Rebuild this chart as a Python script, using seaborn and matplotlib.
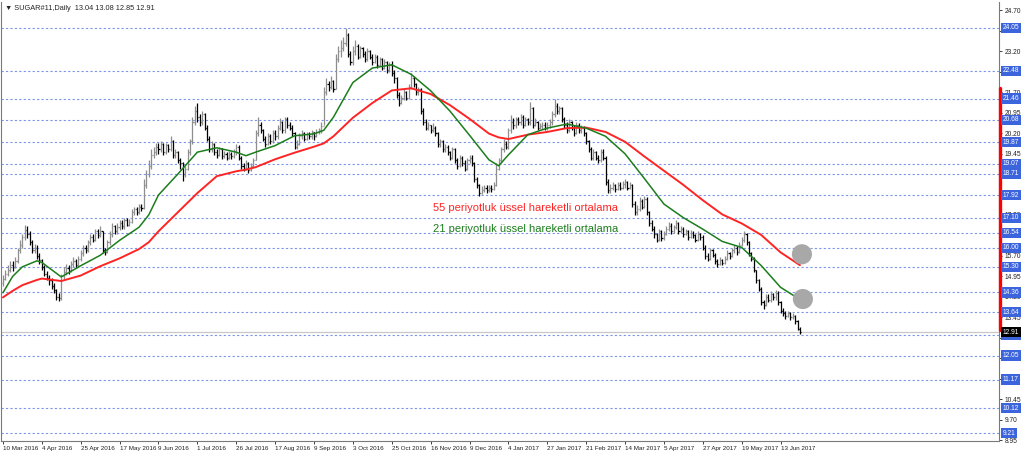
import numpy as np
import pandas as pd
import matplotlib
matplotlib.use('Agg')
import matplotlib.pyplot as plt
import matplotlib.transforms as mtransforms
import seaborn as sns

# daily bars SUGAR#11, 10 Mar 2016 .. Jun 2017
close = [
    14.85, 15.05, 15.2, 15.35, 15.3, 15.5, 15.9, 16.1, 16.4, 16.65, 16.5, 16.2, 15.9, 16.0, 15.7, 15.55,
    15.3, 15.05, 14.9, 14.8, 14.6, 14.45, 14.2, 14.15, 14.95, 15.1, 15.25, 15.15, 15.4, 15.5, 15.35, 15.6,
    15.8, 16.0, 15.9, 16.2, 16.4, 16.3, 16.6, 16.45, 16.6, 15.9, 15.85, 16.2, 16.5, 16.8, 16.6, 16.75,
    16.9, 16.8, 17.0, 16.85, 16.95, 17.3, 17.4, 17.3, 17.5, 17.45, 18.3, 18.7, 19.0, 19.4, 19.5, 19.7,
    19.6, 19.8, 19.5, 19.75, 19.6, 19.9, 19.4, 19.5, 19.2, 19.1, 18.7, 18.9, 19.5, 19.9, 20.6, 21.0,
    20.8, 20.6, 20.9, 20.4, 20.0, 19.6, 19.8, 19.5, 19.4, 19.6, 19.35, 19.45, 19.3, 19.45, 19.35, 19.5,
    19.7, 19.3, 19.0, 18.9, 19.1, 18.85, 19.0, 19.2, 20.2, 20.5, 20.3, 20.0, 19.8, 20.1, 19.9, 20.2,
    20.1, 20.4, 20.6, 20.3, 20.7, 20.5, 20.4, 20.2, 19.7, 19.8, 20.1, 20.2, 20.0, 20.15, 20.1, 20.25,
    20.1, 20.25, 20.3, 20.45, 21.7, 22.0, 21.9, 22.1, 21.8, 22.9, 23.2, 23.3, 23.5, 23.8, 23.1, 22.8,
    23.2, 23.4, 23.0, 23.3, 23.1, 22.9, 23.2, 23.0, 22.8, 23.0, 22.7, 22.9, 22.6, 22.8, 22.5, 22.7,
    22.4, 22.2, 21.6, 21.3, 21.5, 21.7, 21.5, 21.9, 22.2, 22.0, 21.7, 21.8, 21.0, 20.6, 20.4, 20.5,
    20.3, 20.4, 20.2, 19.8, 19.9, 19.6, 19.7, 19.5, 19.3, 19.6, 19.2, 19.0, 19.3, 19.1, 18.9, 19.2,
    19.3, 19.1, 18.5, 18.3, 18.0, 18.1, 18.2, 18.1, 18.2, 18.15, 18.3, 18.9, 19.2, 19.6, 19.8, 19.7,
    20.3, 20.6, 20.5, 20.7, 20.6, 20.8, 20.5, 20.7, 20.6, 21.1, 20.5, 20.6, 20.4, 20.45, 20.5, 20.4,
    20.5, 20.6, 20.9, 21.2, 21.0, 21.1, 20.7, 20.5, 20.3, 20.6, 20.4, 20.2, 20.5, 20.3, 20.4, 20.2,
    19.9, 19.6, 19.3, 19.5, 19.3, 19.2, 19.5, 19.3, 18.4, 18.1, 18.2, 18.3, 18.15, 18.3, 18.2, 18.35,
    18.4, 18.2, 18.3, 17.6, 17.3, 17.4, 17.7, 17.5, 17.8, 17.3, 16.9, 16.7, 16.5, 16.3, 16.6, 16.35,
    16.5, 16.7, 16.8, 16.6, 16.75, 16.9, 16.6, 16.7, 16.5, 16.6, 16.4, 16.55, 16.45, 16.3, 16.5, 16.4,
    16.0, 15.7, 15.6, 15.9, 15.75, 15.5, 15.4, 15.55, 15.45, 15.6, 15.8, 15.7, 15.9, 16.0, 15.85, 16.1,
    16.3, 16.5, 16.2, 15.8, 15.6, 15.2, 14.8, 14.5, 14.0, 13.9, 14.2, 14.1, 14.3, 14.2, 14.35, 14.0,
    13.7, 13.6, 13.5, 13.6, 13.45, 13.5, 13.3, 13.04, 12.91,
]
high = [
    15.0, 15.2, 15.35, 15.5, 15.5, 15.65, 16.0, 16.3, 16.5, 16.85, 16.8, 16.6, 16.3, 16.15, 16.1, 15.8,
    15.6, 15.35, 15.15, 15.0, 14.9, 14.7, 14.5, 14.35, 15.05, 15.3, 15.4, 15.35, 15.5, 15.65, 15.6, 15.7,
    15.9, 16.1, 16.1, 16.3, 16.5, 16.5, 16.7, 16.7, 16.8, 16.6, 16.0, 16.3, 16.6, 16.9, 16.85, 16.9,
    17.0, 17.0, 17.1, 17.1, 17.05, 17.4, 17.5, 17.5, 17.6, 17.6, 18.5, 18.85, 19.2, 19.6, 19.7, 19.85,
    19.85, 19.9, 19.85, 19.85, 19.8, 20.1, 19.95, 19.6, 19.55, 19.3, 19.15, 19.0, 19.6, 20.0, 20.8, 21.2,
    21.3, 20.9, 21.0, 20.95, 20.5, 20.1, 19.9, 19.85, 19.6, 19.7, 19.65, 19.55, 19.5, 19.55, 19.5, 19.6,
    19.8, 19.75, 19.35, 19.1, 19.2, 19.15, 19.1, 19.3, 20.3, 20.8, 20.6, 20.35, 20.1, 20.2, 20.15, 20.3,
    20.3, 20.5, 20.75, 20.65, 20.8, 20.8, 20.6, 20.5, 20.25, 19.95, 20.2, 20.3, 20.25, 20.25, 20.25, 20.3,
    20.25, 20.35, 20.4, 20.6, 21.9, 22.2, 22.1, 22.3, 22.15, 23.1, 23.4, 23.6, 23.7, 24.05, 23.85, 23.2,
    23.4, 23.6, 23.45, 23.4, 23.35, 23.2, 23.3, 23.25, 23.1, 23.1, 23.05, 23.0, 22.95, 22.9, 22.85, 22.8,
    22.85, 22.5, 22.25, 21.7, 21.6, 21.8, 21.75, 22.0, 22.4, 22.3, 22.05, 21.9, 21.85, 21.1, 20.7, 20.6,
    20.5, 20.55, 20.45, 20.25, 20.0, 19.95, 19.8, 19.75, 19.55, 19.7, 19.65, 19.3, 19.4, 19.35, 19.2, 19.3,
    19.4, 19.4, 19.15, 18.6, 18.35, 18.25, 18.3, 18.3, 18.3, 18.3, 18.4, 19.1, 19.3, 19.7, 20.0, 19.9,
    20.4, 20.85, 20.75, 20.8, 20.8, 20.9, 20.85, 20.8, 20.75, 21.35, 21.15, 20.75, 20.65, 20.55, 20.6, 20.6,
    20.6, 20.7, 21.0, 21.45, 21.3, 21.2, 21.15, 20.8, 20.6, 20.7, 20.65, 20.5, 20.6, 20.55, 20.5, 20.45,
    20.25, 19.95, 19.7, 19.6, 19.55, 19.4, 19.6, 19.6, 19.35, 18.5, 18.35, 18.4, 18.35, 18.4, 18.4, 18.45,
    18.5, 18.45, 18.4, 18.35, 17.7, 17.55, 17.85, 17.8, 17.9, 17.85, 17.35, 17.0, 16.8, 16.55, 16.7, 16.65,
    16.6, 16.8, 16.95, 16.9, 16.85, 17.0, 16.95, 16.8, 16.75, 16.7, 16.65, 16.65, 16.6, 16.5, 16.6, 16.55,
    16.45, 16.1, 15.8, 16.0, 15.95, 15.8, 15.6, 15.65, 15.6, 15.7, 15.9, 15.85, 16.0, 16.1, 16.05, 16.2,
    16.4, 16.6, 16.55, 16.25, 15.85, 15.65, 15.2, 14.85, 14.55, 14.1, 14.3, 14.3, 14.4, 14.35, 14.45, 14.4,
    14.05, 13.8, 13.7, 13.7, 13.65, 13.6, 13.55, 13.35, 13.08,
]
low = [
    14.6, 14.8, 14.95, 15.1, 15.15, 15.25, 15.45, 15.8, 16.0, 16.3, 16.35, 16.1, 15.8, 15.8, 15.6, 15.4,
    15.2, 14.95, 14.8, 14.65, 14.5, 14.35, 14.1, 14.05, 14.1, 14.85, 15.0, 15.05, 15.1, 15.3, 15.25, 15.3,
    15.5, 15.7, 15.8, 15.85, 16.1, 16.2, 16.25, 16.35, 16.4, 15.8, 15.75, 15.8, 16.1, 16.4, 16.5, 16.5,
    16.65, 16.7, 16.7, 16.8, 16.8, 16.9, 17.2, 17.2, 17.25, 17.35, 17.4, 18.2, 18.6, 18.9, 19.3, 19.4,
    19.45, 19.5, 19.4, 19.45, 19.5, 19.55, 19.3, 19.3, 19.1, 18.9, 18.45, 18.6, 18.85, 19.4, 19.8, 20.5,
    20.6, 20.45, 20.5, 20.3, 19.9, 19.5, 19.5, 19.4, 19.3, 19.35, 19.25, 19.3, 19.2, 19.25, 19.25, 19.3,
    19.4, 19.2, 18.9, 18.8, 18.85, 18.75, 18.8, 18.95, 19.2, 20.1, 20.2, 19.9, 19.7, 19.75, 19.8, 19.85,
    19.95, 20.0, 20.3, 20.2, 20.2, 20.4, 20.3, 20.1, 19.6, 19.6, 19.75, 20.0, 19.9, 19.95, 20.0, 20.0,
    19.95, 20.05, 20.15, 20.2, 20.5, 21.6, 21.75, 21.8, 21.7, 21.8, 22.8, 23.0, 23.2, 23.4, 23.0, 22.7,
    22.7, 23.05, 22.9, 22.95, 23.0, 22.8, 22.85, 22.9, 22.7, 22.75, 22.6, 22.65, 22.5, 22.55, 22.4, 22.45,
    22.3, 22.05, 21.5, 21.2, 21.25, 21.4, 21.4, 21.45, 21.8, 21.9, 21.6, 21.6, 20.9, 20.5, 20.3, 20.3,
    20.2, 20.25, 20.1, 19.7, 19.7, 19.5, 19.5, 19.4, 19.2, 19.25, 19.1, 18.9, 18.95, 19.0, 18.8, 18.85,
    19.1, 19.0, 18.4, 18.2, 17.9, 17.95, 18.05, 18.0, 18.05, 18.05, 18.1, 18.25, 18.85, 19.15, 19.5, 19.6,
    19.6, 20.2, 20.35, 20.4, 20.5, 20.5, 20.4, 20.45, 20.5, 20.5, 20.4, 20.45, 20.3, 20.35, 20.35, 20.3,
    20.3, 20.4, 20.5, 20.8, 20.9, 20.9, 20.6, 20.4, 20.2, 20.25, 20.3, 20.1, 20.15, 20.2, 20.2, 20.1,
    19.8, 19.5, 19.2, 19.2, 19.2, 19.1, 19.15, 19.2, 18.3, 18.0, 18.0, 18.1, 18.05, 18.1, 18.1, 18.15,
    18.2, 18.1, 18.15, 17.5, 17.2, 17.2, 17.35, 17.4, 17.45, 17.2, 16.8, 16.6, 16.35, 16.2, 16.25, 16.25,
    16.3, 16.45, 16.6, 16.5, 16.55, 16.7, 16.5, 16.55, 16.4, 16.45, 16.3, 16.35, 16.35, 16.2, 16.25, 16.3,
    15.9, 15.6, 15.5, 15.55, 15.65, 15.4, 15.3, 15.35, 15.35, 15.4, 15.55, 15.6, 15.65, 15.8, 15.75, 15.8,
    16.05, 16.2, 16.1, 15.7, 15.5, 15.1, 14.7, 14.4, 13.9, 13.75, 13.85, 14.0, 14.0, 14.1, 14.1, 13.9,
    13.6, 13.5, 13.4, 13.45, 13.35, 13.4, 13.2, 13.0, 12.85,
]
first_open = 14.70

# moving averages, read every 8 bars (plus the turns)
ema_bar = [0, 4, 8, 14, 16, 24, 32, 40, 48, 56, 60, 64, 72, 80, 88, 96, 100, 104, 112, 120, 128,
           132, 136, 144, 152, 160, 168, 176, 184, 192, 200, 204, 208, 216, 224, 232, 240, 248,
           256, 264, 272, 280, 288, 296, 304, 312, 320, 328]
ema21 = [14.35, 14.95, 15.3, 15.52, 15.46, 14.93, 15.34, 15.72, 16.27, 16.75, 17.2, 17.93, 18.7,
         19.5, 19.66, 19.5, 19.37, 19.5, 19.74, 20.1, 20.17, 20.3, 20.78, 22.05, 22.58, 22.7, 22.35,
         21.75, 21.0, 20.12, 19.22, 19.0, 19.4, 20.14, 20.38, 20.53, 20.38, 20.08, 19.44, 18.53, 17.6,
         17.1, 16.68, 16.23, 16.01, 15.35, 14.55, 14.1]
ema55 = [14.18, 14.42, 14.63, 14.82, 14.87, 14.78, 14.98, 15.32, 15.61, 15.95, 16.2, 16.6, 17.3,
         18.0, 18.62, 18.8, 18.86, 18.95, 19.24, 19.48, 19.7, 19.82, 20.08, 20.76, 21.3, 21.76, 21.84,
         21.63, 21.22, 20.72, 20.18, 20.04, 19.98, 20.14, 20.24, 20.38, 20.4, 20.24, 19.88, 19.34,
         18.82, 18.3, 17.74, 17.22, 16.89, 16.47, 15.83, 15.36]

date_labels = ['10 Mar 2016', '4 Apr 2016', '25 Apr 2016', '17 May 2016', '9 Jun 2016', '1 Jul 2016',
               '26 Jul 2016', '17 Aug 2016', '9 Sep 2016', '3 Oct 2016', '25 Oct 2016', '16 Nov 2016',
               '9 Dec 2016', '4 Jan 2017', '27 Jan 2017', '21 Feb 2017', '14 Mar 2017', '5 Apr 2017',
               '27 Apr 2017', '19 May 2017', '13 Jun 2017']
level_lines = [24.05, 22.48, 21.46, 20.68, 19.87, 19.07, 18.71, 17.92, 17.10, 16.54, 16.00, 15.30,
               14.36, 13.64, 12.81, 12.05, 11.17, 10.12, 9.21]
price_ticks = [24.70, 23.95, 23.20, 22.45, 21.70, 20.95, 20.20, 19.45, 18.70, 17.95, 17.20, 16.45,
               15.70, 14.95, 14.20, 13.45, 12.70, 11.95, 11.20, 10.45, 9.70, 8.95]
last_price = 12.91
header = 'SUGAR#11,Daily  13.04 13.08 12.85 12.91'
red_band = [13.0, 21.85]
highlight_bar = [328.8, 329.2]
highlight_price = [15.76, 14.12]
label55 = '55 periyotluk üssel hareketli ortalama'
label21 = '21 periyotluk üssel hareketli ortalama'

GREEN = '#1c7d1c'
RED = '#ff2424'
BLUE = '#3c64dc'
DOT = '#7c95e6'

sns.set_style('white')
plt.rcParams['font.family'] = ['Liberation Sans', 'DejaVu Sans']

fig = plt.figure(figsize=(10.24, 4.54), dpi=100)
ax = fig.add_axes([1/1024, 13/454, 998/1024, 439/454])
ax.set_xlim(-0.8, 409.9)
ax.set_ylim(8.92, 25.0)

for lv in level_lines:
    ax.axhline(lv, color=DOT, lw=0.8, ls=(0, (2, 2)), zorder=1)
ax.axhline(last_price, color='#c8c8c8', lw=0.9, zorder=1)

bars = pd.DataFrame({'bar': np.arange(len(close)), 'close': close, 'high': high, 'low': low})
bars['open'] = bars['close'].shift(1).fillna(first_open)
bars['up'] = bars['close'] >= bars['open']
for up, grp in bars.groupby('up'):
    col = '#8e8e8e' if up else 'black'
    ax.vlines(grp['bar'], grp['low'], grp['high'], color=col, lw=0.9, zorder=2)
    ax.hlines(grp['open'], grp['bar'] - 0.45, grp['bar'], color=col, lw=0.9, zorder=2)
    ax.hlines(grp['close'], grp['bar'], grp['bar'] + 0.45, color=col, lw=0.9, zorder=2)

sns.lineplot(x=ema_bar, y=ema55, color=RED, lw=1.4, ax=ax, zorder=3)
sns.lineplot(x=ema_bar, y=ema21, color=GREEN, lw=1.1, ax=ax, zorder=3)
ax.scatter(highlight_bar, highlight_price, s=210, color='#a8a8a8', edgecolor='none', zorder=4)

ax.text(215, 17.46, label55, color=RED, fontsize=8, ha='center', va='center')
ax.text(215, 16.69, label21, color=GREEN, fontsize=8, ha='center', va='center')
ax.text(0.004, 0.986, '\u25BC ' + header, transform=ax.transAxes, fontsize=5.3,
        ha='left', va='center', family=['Liberation Sans', 'DejaVu Sans'])

# x axis
ax.set_xticks(np.arange(len(date_labels)) * 16)
ax.set_xticklabels(date_labels, ha='left')
ax.tick_params(axis='x', bottom=True, length=2.5, width=0.6, labelsize=4.5, pad=1.2, colors='#202020')

# right price scale
ax.yaxis.tick_right()
ax.set_yticks(price_ticks)
ax.set_yticklabels([f'{p:.2f}' for p in price_ticks])
ax.tick_params(axis='y', right=True, length=2.5, width=0.6, labelsize=4.8, pad=1.5, colors='#202020')

tr = mtransforms.blended_transform_factory(ax.transAxes, ax.transData)
ax.plot([1.0015, 1.0015], red_band, transform=tr, color='red', lw=2.4, clip_on=False, zorder=6)
for lv in level_lines:
    ax.text(1.0035, lv, f'{lv:.2f}', transform=tr, fontsize=4.8, color='white', ha='left', va='center',
            clip_on=False, zorder=7,
            bbox=dict(boxstyle='square,pad=0.25', fc=BLUE, ec='none'))
ax.text(1.0035, last_price, f'{last_price:.2f}', transform=tr, fontsize=4.8, color='white', ha='left',
        va='center', clip_on=False, zorder=8, bbox=dict(boxstyle='square,pad=0.25', fc='black', ec='none'))

for side in ['left', 'bottom', 'right']:
    ax.spines[side].set_color('#7a7a7a')
    ax.spines[side].set_linewidth(0.8)
ax.spines['top'].set_visible(False)
ax.set_xlabel('')
ax.set_ylabel('')

fig.savefig('out.png', dpi=100, facecolor='white')
